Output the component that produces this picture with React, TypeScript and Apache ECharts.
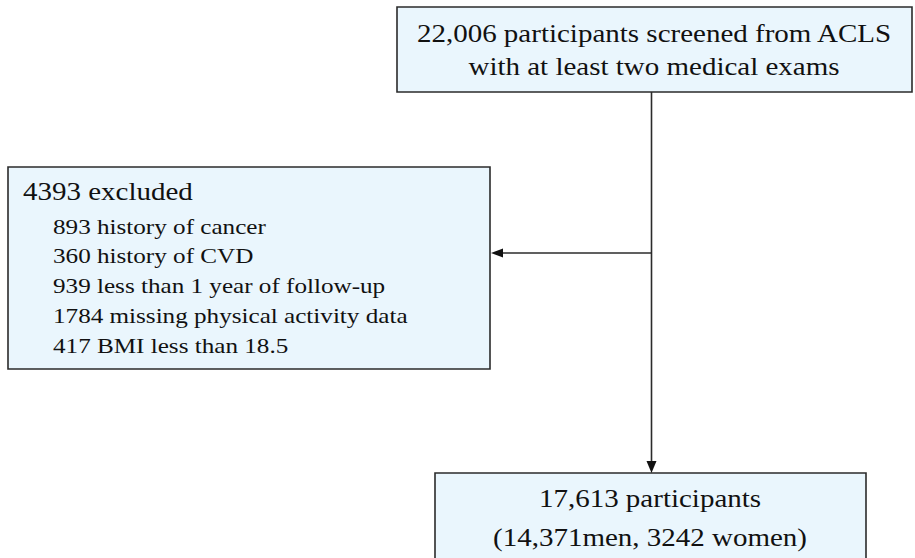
import React, { useEffect, useRef } from "react";
import * as echarts from "echarts";

const topLines = ["22,006 participants screened from ACLS", "with at least two medical exams"];
const excludedHeader = "4393 excluded";
const excludedCounts = ["893", "360", "939", "1784", "417"];
const excludedReasons = [
  "history of cancer",
  "history of CVD",
  "less than 1 year of follow-up",
  "missing physical activity data",
  "BMI less than 18.5",
];
const finalLines = ["17,613 participants", "(14,371men, 3242 women)"];

const FONT = "Liberation Serif";
const FILL = "#eaf6fd";
const STROKE = "#2b2b2b";
const SX = 1.16;

export default function App() {
  const ref = useRef<HTMLDivElement>(null);
  useEffect(() => {
    document.body.style.margin = "0";
    const chart = echarts.init(ref.current!, undefined, { renderer: "svg" });
    const g: any[] = [];
    const box = (x: number, y: number, w: number, h: number) => ({
      type: "rect",
      shape: { x, y, width: w, height: h },
      style: { fill: FILL, stroke: STROKE, lineWidth: 1.6 },
    });
    const txt = (s: string, x: number, y: number, size: number, align: string, sx = SX) => ({
      type: "text",
      x,
      y,
      scaleX: sx,
      style: {
        text: s,
        fill: "#111",
        fontFamily: FONT,
        fontSize: size,
        align,
        verticalAlign: "middle",
      },
    });
    // boxes
    g.push(box(397, 7, 515, 85));
    g.push(box(8, 167, 482, 202));
    g.push(box(435, 473, 431, 100));
    // connector lines
    g.push({ type: "line", shape: { x1: 651.5, y1: 92, x2: 651.5, y2: 463 }, style: { stroke: STROKE, lineWidth: 1.6 } });
    g.push({ type: "line", shape: { x1: 651.5, y1: 253, x2: 500, y2: 253 }, style: { stroke: STROKE, lineWidth: 1.6 } });
    // arrowheads
    g.push({ type: "polygon", shape: { points: [[491, 253], [503, 248.5], [503, 257.5]] }, style: { fill: "#111" } });
    g.push({ type: "polygon", shape: { points: [[651.5, 473], [646.5, 461], [656.5, 461]] }, style: { fill: "#111" } });
    // texts
    g.push(txt(topLines[0], 654, 33.5, 25, "center"));
    g.push(txt(topLines[1], 654, 67, 25, "center"));
    g.push(txt(excludedHeader, 23, 192, 25, "left"));
    const ys = [227, 256, 285.5, 316, 346];
    excludedCounts.forEach((c, i) => {
      g.push(txt(c + " " + excludedReasons[i], 53, ys[i], 21.5, "left", 1.17));
    });
    g.push(txt(finalLines[0], 650, 498.5, 25, "center"));
    g.push(txt(finalLines[1], 650, 537.5, 25, "center"));

    chart.setOption({ animation: false, backgroundColor: "#ffffff", graphic: { elements: g } });
    return () => chart.dispose();
  }, []);
  return <div ref={ref} style={{ width: 915, height: 558, position: "absolute", left: 0, top: 0 }} />;
}
